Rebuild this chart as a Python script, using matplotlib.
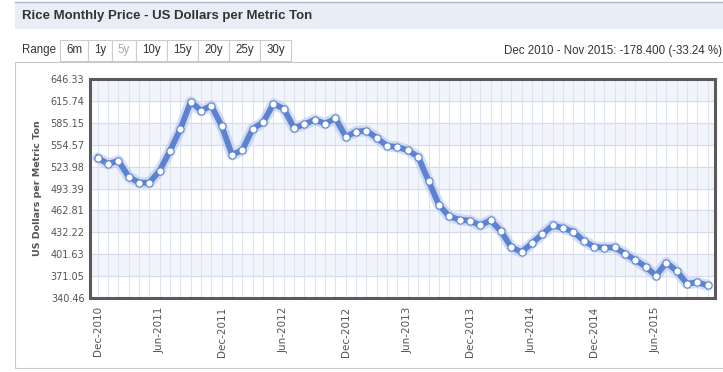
import numpy as np
import matplotlib.pyplot as plt
from matplotlib.patches import Rectangle

# monthly rice price, Dec 2010 .. Nov 2015
prices = [536.4, 527.6, 532.2, 509.9, 501.5, 501.5, 518.3, 546.2, 576.5, 614.6,
          602.1, 609.0, 580.7, 540.2, 547.2, 576.9, 585.8, 611.8, 604.8, 577.9,
          583.0, 589.5, 583.9, 591.4, 565.8, 572.7, 574.1, 563.9, 552.8, 551.4,
          546.7, 537.8, 504.3, 470.8, 454.5, 449.8, 448.4, 441.9, 449.0, 434.0,
          411.3, 404.7, 416.8, 429.4, 441.9, 438.2, 433.1, 420.5, 412.1, 410.7,
          411.3, 402.3, 393.5, 384.2, 371.6, 390.0, 378.2, 360.4, 362.4, 358.0]
tick_labels = ['Dec-2010', 'Jun-2011', 'Dec-2011', 'Jun-2012', 'Dec-2012',
               'Jun-2013', 'Dec-2013', 'Jun-2014', 'Dec-2014', 'Jun-2015']
y_ticks = [340.46, 371.05, 401.63, 432.22, 462.81, 493.39, 523.98,
           554.57, 585.15, 615.74, 646.33]
range_buttons = ['6m', '1y', '5y', '10y', '15y', '20y', '25y', '30y']

W, H = 723, 372
fig = plt.figure(figsize=(W / 100, H / 100), dpi=100)
fig.patch.set_facecolor('white')
ui_font = ['Liberation Sans', 'DejaVu Sans']


def px(x, y):
    return x / W, 1 - y / H


def prect(x0, y0, x1, y1, **kw):
    fig.patches.append(Rectangle((x0 / W, 1 - y1 / H), (x1 - x0) / W, (y1 - y0) / H,
                                 transform=fig.transFigure, figure=fig, **kw))


# header bar
prect(15, 3, 723, 29, facecolor='#e9eef6', edgecolor='none')
fig.add_artist(plt.Line2D([15 / W, 1], [1 - 2 / H] * 2, color='#a9b6cc', lw=1))
fig.text(*px(22, 16), 'Rice Monthly Price - US Dollars per Metric Ton',
         family=ui_font, weight='bold', fontsize=9.5, color='#333333',
         va='center', ha='left')

# range selector
fig.text(*px(22, 50), 'Range', family=ui_font, fontsize=8.3, color='#333333',
         va='center')
edges = [60, 88, 112, 136, 167, 198, 229, 260, 291]
for i, lab in enumerate(range_buttons):
    prect(edges[i], 40, edges[i + 1], 61, facecolor='white', edgecolor='#cccccc', lw=0.8)
    fig.text(*px((edges[i] + edges[i + 1]) / 2, 50), lab, family=ui_font,
             fontsize=8.3, color='#aaaaaa' if lab == '5y' else '#333333',
             ha='center', va='center')
fig.text(*px(722, 51), 'Dec 2010 - Nov 2015: -178.400 (-33.24 %)',
         family=ui_font, fontsize=8.3, color='#333333', ha='right', va='center')

# chart panel
prect(15, 62, 730, 368, facecolor='none', edgecolor='#c8c8c8', lw=0.8)

ax = fig.add_axes([90 / W, (H - 298) / H, 625 / W, 219 / H])
x = np.arange(len(prices))
ax.set_xlim(-0.74, len(prices) - 1 + 0.71)
ax.set_ylim(y_ticks[0], y_ticks[-1])

# alternating bands
for k in range(len(y_ticks) - 1):
    if k % 2 == 1:
        ax.axhspan(y_ticks[k], y_ticks[k + 1], color='#f1f4fb', zorder=0)

ax.set_yticks(y_ticks)
ax.set_yticklabels(['%.2f' % v for v in y_ticks])
ax.set_xticks(np.arange(0, len(prices), 6))
ax.set_xticklabels(tick_labels, rotation=90)
ax.set_xticks(x, minor=True)
ax.grid(True, which='minor', axis='x', color='#dde4f0', lw=0.8, zorder=1)
ax.grid(True, which='major', axis='x', color='#dde4f0', lw=0.8, zorder=1)
ax.grid(True, which='major', axis='y', color='#d5ddec', lw=0.8, zorder=1)
ax.tick_params(which='both', length=0, labelsize=7, colors='#555555', pad=4)
ax.tick_params(axis='x', pad=6, labelsize=7.5)
for s in ax.spines.values():
    s.set_color('#5a5a5a')
    s.set_linewidth(2.2)

ax.plot(x, prices, color='#b9c9ec', lw=8, alpha=0.6, solid_capstyle='round', zorder=2)
ax.plot(x, prices, color='#5b83d2', lw=4.2, solid_joinstyle='round', zorder=3)
ax.plot(x, prices, ls='none', marker='o', ms=5.2, mfc='white', mec='#5b83d2',
        mew=0.8, zorder=4)

ax.set_ylabel('US Dollars per Metric Ton', fontsize=6.8, weight='bold',
              color='#555555', labelpad=6)

fig.savefig('out.png', dpi=100)
